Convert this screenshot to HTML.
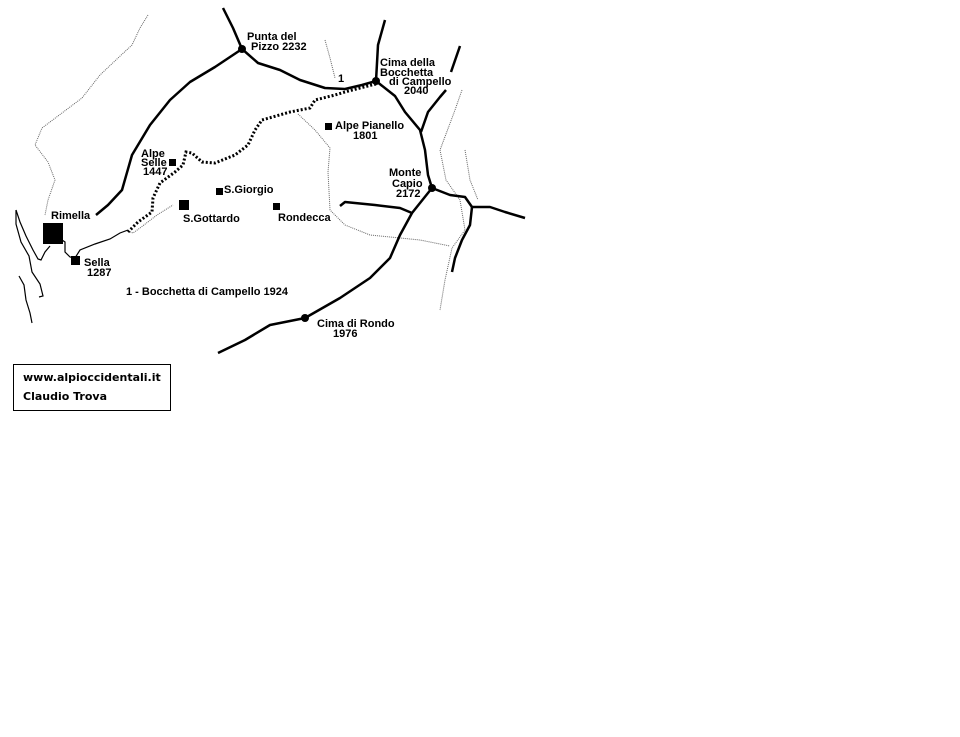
<!DOCTYPE html>
<html><head><style>
body{margin:0;background:#fff;width:960px;height:737px;overflow:hidden;position:relative;font-family:"Liberation Sans",sans-serif}
svg{position:absolute;left:0;top:0}
.t{font:bold 11px "Liberation Sans",sans-serif;fill:#000}
.box{position:absolute;left:13px;top:364px;width:158px;height:47px;border:1px solid #000;font:bold 11px "DejaVu Sans",sans-serif;line-height:19px;padding:3px 0 0 9px;box-sizing:border-box}
</style></head><body>
<svg width="960" height="737" viewBox="0 0 960 737">
<g fill="none" stroke="#666" stroke-width="1" stroke-dasharray="1,1">
<polyline points="148,15 140,28 132,45 118,58 100,75 82,98 62,113 42,128 35,145 48,162 55,180 48,200 45,215"/>
<polyline points="325,40 330,58 335,78"/>
<polyline points="298,114 315,130 330,148 328,172 330,210 345,225 370,235 420,240 450,246"/>
<polyline points="128,231 133,233 140,228 157,215 173,205"/>
<polyline points="462,90 455,110 440,150 446,180 460,200 465,230 452,248 445,280 440,310"/>
<polyline points="465,150 470,180 478,200"/>
</g>
<g fill="none" stroke="#000" stroke-width="1.2">
<polyline points="16,210 20,222 26,236 33,250 38,259 41,260 45,252 50,246"/>
<polyline points="16,210 16,224 21,242 29,256 32,272 40,284 43,296 39,297"/>
<polyline points="19,276 24,285 26,300 30,313 32,323"/>
<polyline points="62,240 65,242 65,252 70,257 75,258"/>
<polyline points="75,258 80,250 95,244 110,239 120,233 128,230"/>
</g>
<g fill="none" stroke="#000" stroke-width="2.5" stroke-linejoin="round">
<polyline points="223,8 233,28 242,49"/>
<polyline points="242,49 215,67 190,82 170,100 150,125 132,155 122,190 108,205 96,215"/>
<polyline points="242,49 258,63 280,70 300,80 325,88 345,89 362,85 376,81"/>
<polyline points="376,81 378,45 385,20"/>
<polyline points="376,81 395,96 405,112 420,130 425,150 428,175 432,188"/>
<polyline points="421,132 428,112 440,97 446,90"/>
<polyline points="451,72 460,46"/>
<polyline points="432,188 412,213 400,235 390,258 370,278 340,298 305,318 270,325 245,340 218,353"/>
<polyline points="412,213 400,208 375,205 345,202 340,206"/>
<polyline points="432,188 450,195 465,197 472,207 490,207 505,212 525,218"/>
<polyline points="472,207 470,225 462,240 455,258 452,272"/>
</g>
<polyline fill="none" stroke="#000" stroke-width="3" stroke-dasharray="2,2" points="376,84 360,88 345,92 335,95 315,100 310,108 290,112 262,120 255,130 248,145 235,155 215,163 202,162 192,153 186,152 183,165 175,172 160,183 153,198 152,212 138,222 128,232"/>
<g fill="#000">
<circle cx="242" cy="49" r="4"/><circle cx="376" cy="81" r="4"/><circle cx="432" cy="188" r="4"/><circle cx="305" cy="318" r="4"/>
<rect x="43" y="223" width="20" height="21"/>
<rect x="71" y="256" width="9" height="9"/>
<rect x="179" y="200" width="10" height="10"/>
<rect x="169" y="159" width="7" height="7"/>
<rect x="216" y="188" width="7" height="7"/>
<rect x="273" y="203" width="7" height="7"/>
<rect x="325" y="123" width="7" height="7"/>
</g>
<text class="t" x="247" y="40">Punta del</text>
<text class="t" x="251" y="50">Pizzo  2232</text>
<text class="t" x="338" y="82">1</text>
<text class="t" x="380" y="66">Cima della</text>
<text class="t" x="380" y="76">Bocchetta</text>
<text class="t" x="389" y="85">di Campello</text>
<text class="t" x="404" y="94">2040</text>
<text class="t" x="335" y="129">Alpe Pianello</text>
<text class="t" x="353" y="139">1801</text>
<text class="t" x="141" y="157">Alpe</text>
<text class="t" x="141" y="166">Selle</text>
<text class="t" x="143" y="175">1447</text>
<text class="t" x="224" y="193">S.Giorgio</text>
<text class="t" x="389" y="176">Monte</text>
<text class="t" x="392" y="187">Capio</text>
<text class="t" x="396" y="197">2172</text>
<text class="t" x="183" y="222">S.Gottardo</text>
<text class="t" x="278" y="221">Rondecca</text>
<text class="t" x="51" y="219">Rimella</text>
<text class="t" x="84" y="266">Sella</text>
<text class="t" x="87" y="276">1287</text>
<text class="t" x="126" y="295">1 - Bocchetta di Campello 1924</text>
<text class="t" x="317" y="327">Cima di Rondo</text>
<text class="t" x="333" y="337">1976</text>
</svg>
<div class="box">www.alpioccidentali.it<br>Claudio Trova</div>
</body></html>
